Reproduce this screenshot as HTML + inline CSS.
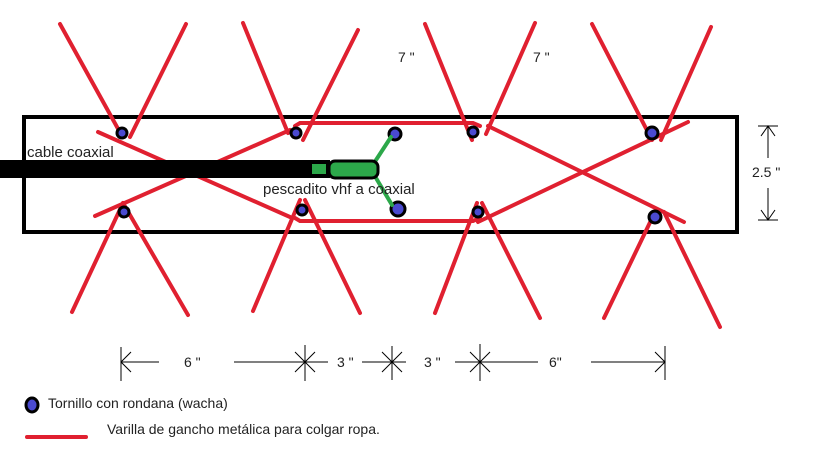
<!DOCTYPE html>
<html><head><meta charset="utf-8"><style>
html,body{margin:0;padding:0;background:#fff;width:819px;height:460px;overflow:hidden}
text{font-family:"Liberation Sans",sans-serif;fill:#222}
</style></head><body>
<svg width="819" height="460" viewBox="0 0 819 460" xmlns="http://www.w3.org/2000/svg">
<rect x="24" y="117" width="713" height="115" fill="none" stroke="#000" stroke-width="4"/>
<g stroke="#e02030" stroke-width="4" stroke-linecap="round" fill="none">
<line x1="60" y1="24" x2="122" y2="136"/><line x1="186" y1="24" x2="130" y2="137"/>
<line x1="98" y1="132" x2="290" y2="217"/><line x1="95" y1="216" x2="290" y2="130"/>
<line x1="72" y1="312" x2="123" y2="203"/><line x1="188" y1="315" x2="123" y2="203"/>
<polyline points="295,126 300,123 473,123 480,126"/>
<polyline points="295,218 300,221 473,221 480,218"/>
<line x1="243" y1="23" x2="288" y2="133"/><line x1="358" y1="30" x2="303" y2="140"/>
<line x1="253" y1="311" x2="300" y2="200"/><line x1="360" y1="313" x2="305" y2="200"/>
<line x1="425" y1="24" x2="472" y2="140"/><line x1="535" y1="23" x2="486" y2="134"/>
<line x1="488" y1="126" x2="684" y2="222"/><line x1="478" y1="222" x2="688" y2="122"/>
<line x1="435" y1="313" x2="477" y2="203"/><line x1="540" y1="318" x2="482" y2="203"/>
<line x1="592" y1="24" x2="652" y2="140"/><line x1="711" y1="27" x2="661" y2="140"/>
<line x1="604" y1="318" x2="655" y2="212"/><line x1="720" y1="327" x2="664" y2="212"/>
</g>
<g fill="#4a4ad0" stroke="#000" stroke-width="3">
<circle cx="122" cy="133" r="5"/><circle cx="296" cy="133" r="5"/><circle cx="395" cy="134" r="6"/>
<circle cx="473" cy="132" r="5"/><circle cx="652" cy="133" r="6"/>
<circle cx="124" cy="212" r="5"/><circle cx="302" cy="210" r="5"/><circle cx="398" cy="209" r="7"/>
<circle cx="478" cy="212" r="5"/><circle cx="655" cy="217" r="6"/>
</g>
<rect x="0" y="160" width="330" height="18" fill="#000"/>
<g stroke="#2ca84a" stroke-width="4" stroke-linecap="round">
<line x1="376" y1="160" x2="391" y2="137"/><line x1="376" y1="178" x2="392" y2="205"/>
</g>
<rect x="312" y="164" width="14" height="10" fill="#2ca84a"/>
<rect x="329" y="161" width="49" height="17" rx="6" fill="#2ca84a" stroke="#000" stroke-width="3"/>
<text x="27" y="157" font-size="15">cable coaxial</text>
<text x="263" y="194" font-size="15">pescadito vhf a coaxial</text>
<text x="398" y="62" font-size="14">7 "</text>
<text x="533" y="62" font-size="14">7 "</text>
<text x="752" y="177" font-size="14">2.5 "</text>
<g stroke="#000" stroke-width="1" fill="none">
<line x1="768" y1="126" x2="768" y2="158"/><line x1="768" y1="188" x2="768" y2="220"/>
<line x1="758" y1="126" x2="778" y2="126"/><line x1="758" y1="220" x2="778" y2="220"/>
<polyline points="761,136 768,126 775,136"/><polyline points="761,210 768,220 775,210"/>
<line x1="121" y1="347" x2="121" y2="381"/><line x1="121" y1="362" x2="159" y2="362"/>
<polyline points="131,352 121,362 131,372"/>
<line x1="234" y1="362" x2="328" y2="362"/>
<line x1="305" y1="345" x2="305" y2="381"/><line x1="295" y1="352" x2="315" y2="372"/><line x1="315" y1="352" x2="295" y2="372"/>
<line x1="362" y1="362" x2="406" y2="362"/>
<line x1="392" y1="346" x2="392" y2="380"/><line x1="382" y1="352" x2="402" y2="372"/><line x1="402" y1="352" x2="382" y2="372"/>
<line x1="455" y1="362" x2="538" y2="362"/>
<line x1="480" y1="344" x2="480" y2="381"/><line x1="470" y1="352" x2="490" y2="372"/><line x1="490" y1="352" x2="470" y2="372"/>
<line x1="591" y1="362" x2="665" y2="362"/>
<line x1="665" y1="346" x2="665" y2="380"/><polyline points="655,352 665,362 655,372"/>
</g>
<text x="184" y="367" font-size="14">6 "</text>
<text x="337" y="367" font-size="14">3 "</text>
<text x="424" y="367" font-size="14">3 "</text>
<text x="549" y="367" font-size="14">6"</text>
<ellipse cx="32" cy="405" rx="6" ry="7" fill="#4a4ad0" stroke="#000" stroke-width="3"/>
<text x="48" y="408" font-size="14">Tornillo con rondana (wacha)</text>
<line x1="27" y1="437" x2="86" y2="437" stroke="#e02030" stroke-width="4" stroke-linecap="round"/>
<text x="107" y="434" font-size="14">Varilla de gancho metálica para colgar ropa.</text>
</svg>
</body></html>
